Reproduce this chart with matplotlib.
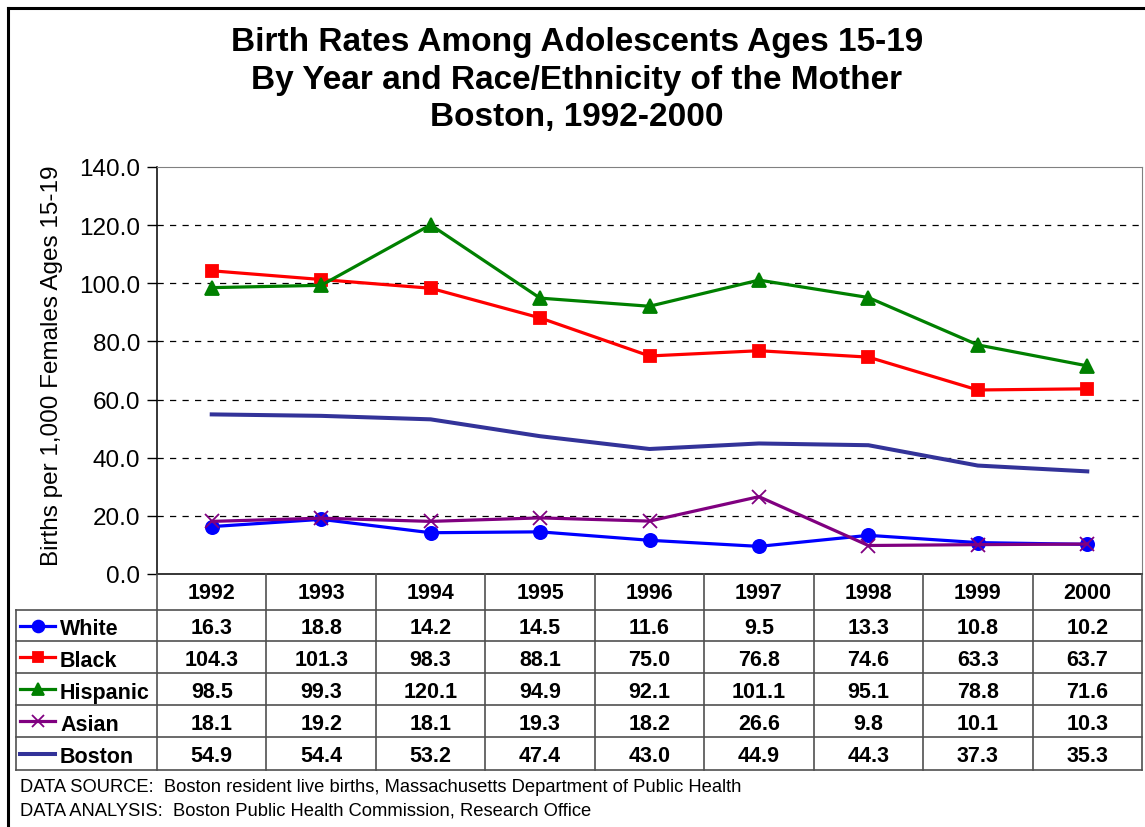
# teen_birth_rates.py
# Boston adolescent birth rates by race/ethnicity, line chart with a data table under it

import matplotlib.pyplot as plt
from matplotlib.lines import Line2D

plt.rcParams['font.family'] = ['Liberation Sans', 'DejaVu Sans']

# data
years = ["1992", "1993", "1994", "1995", "1996", "1997", "1998", "1999", "2000"]
white = [16.3, 18.8, 14.2, 14.5, 11.6, 9.5, 13.3, 10.8, 10.2]
black = [104.3, 101.3, 98.3, 88.1, 75.0, 76.8, 74.6, 63.3, 63.7]
hispanic = [98.5, 99.3, 120.1, 94.9, 92.1, 101.1, 95.1, 78.8, 71.6]
asian = [18.1, 19.2, 18.1, 19.3, 18.2, 26.6, 9.8, 10.1, 10.3]
boston = [54.9, 54.4, 53.2, 47.4, 43.0, 44.9, 44.3, 37.3, 35.3]

series = [
    ("White", white, "#0000FF", "o", 9.5, 2.3),
    ("Black", black, "#FF0000", "s", 8.5, 2.3),
    ("Hispanic", hispanic, "#008000", "^", 9.5, 2.3),
    ("Asian", asian, "#800080", "x", 9.5, 2.3),
    ("Boston", boston, "#333399", None, 0, 2.9),
]

W, H = 1145, 828
fig = plt.figure(figsize=(W / 100, H / 100), dpi=100)

def fx(px):
    return px / W

def fy(py):
    return 1 - py / H

# outer frame (only top and left visible in the crop)
fig.add_artist(Line2D([fx(8), fx(8)], [fy(9), fy(H + 5)], color="black", lw=2.2,
                      transform=fig.transFigure))
fig.add_artist(Line2D([fx(8), fx(W + 5)], [fy(9), fy(9)], color="black", lw=2.2,
                      transform=fig.transFigure))

fig.text(fx(577), fy(80), "Birth Rates Among Adolescents Ages 15-19\n"
         "By Year and Race/Ethnicity of the Mother\nBoston, 1992-2000",
         ha="center", va="center", fontsize=24, fontweight="bold", linespacing=1.27)

# plot area
left, right, top, bottom = 157, 1142, 168, 575
ax = fig.add_axes([fx(left), fy(bottom), fx(right - left), (bottom - top) / H])
x = list(range(len(years)))
for name, vals, col, mk, ms, lw in series:
    ax.plot(x, vals, color=col, lw=lw, marker=mk, markersize=ms, mew=1.3,
            clip_on=False, zorder=3)

ax.set_xlim(-0.5, len(years) - 0.5)
ax.set_ylim(0, 140)
ax.set_yticks(range(0, 141, 20))
ax.set_yticklabels([f"{v:.1f}" for v in range(0, 141, 20)], fontsize=17.5)
ax.set_xticks([])
ax.tick_params(axis="y", direction="out", length=7, width=1, pad=5)
for yv in range(20, 140, 20):
    ax.axhline(yv, color="black", lw=0.9, ls=(0, (5, 5)), zorder=1)
ax.spines["top"].set_color("#808080")
ax.spines["right"].set_color("#808080")
ax.spines["left"].set_linewidth(1.1)
ax.spines["bottom"].set_linewidth(1.1)

fig.text(fx(52), fy(366), "Births per 1,000 Females Ages 15-19", rotation=90,
         ha="center", va="center", fontsize=17.5)

# data table
tcol = "#505050"
row_lines = [610.7, 642.3, 674, 706, 738.3, 770.7]
col_w = (right - left) / len(years)
tsize = 15.5

def hline(y, x0, x1):
    fig.add_artist(Line2D([fx(x0), fx(x1)], [fy(y), fy(y)], color=tcol, lw=1.2,
                          transform=fig.transFigure))

def vline(xp, y0, y1):
    fig.add_artist(Line2D([fx(xp), fx(xp)], [fy(y0), fy(y1)], color=tcol, lw=1.2,
                          transform=fig.transFigure))

for yl in row_lines:
    hline(yl, 16, right)
vline(16, row_lines[0], row_lines[-1])
vline(left, bottom, row_lines[-1])
for i in range(1, len(years) + 1):
    vline(left + i * col_w, bottom, row_lines[-1])

for i, yr in enumerate(years):
    fig.text(fx(left + (i + 0.5) * col_w), fy((bottom + row_lines[0]) / 2 + 1), yr,
             ha="center", va="center", fontsize=tsize, fontweight="bold")

for r, (name, vals, col, mk, ms, lw) in enumerate(series):
    yc = (row_lines[r] + row_lines[r + 1]) / 2
    fig.add_artist(Line2D([fx(20), fx(55)], [fy(yc), fy(yc)], color=col, lw=lw,
                          transform=fig.transFigure))
    if mk:
        fig.add_artist(Line2D([fx(37.5)], [fy(yc)], color=col, marker=mk,
                              markersize=ms - 1, mew=1.3, transform=fig.transFigure))
    fig.text(fx(60), fy(yc + 3), name, ha="left", va="center", fontsize=tsize,
             fontweight="bold")
    for i, v in enumerate(vals):
        fig.text(fx(left + (i + 0.5) * col_w), fy(yc + 2), f"{v:.1f}", ha="center",
                 va="center", fontsize=tsize, fontweight="bold")

fig.text(fx(20), fy(788), "DATA SOURCE:  Boston resident live births, Massachusetts "
         "Department of Public Health", ha="left", va="center", fontsize=13.2)
fig.text(fx(20), fy(811), "DATA ANALYSIS:  Boston Public Health Commission, Research Office",
         ha="left", va="center", fontsize=13.2)

fig.savefig("out.png", dpi=100)
